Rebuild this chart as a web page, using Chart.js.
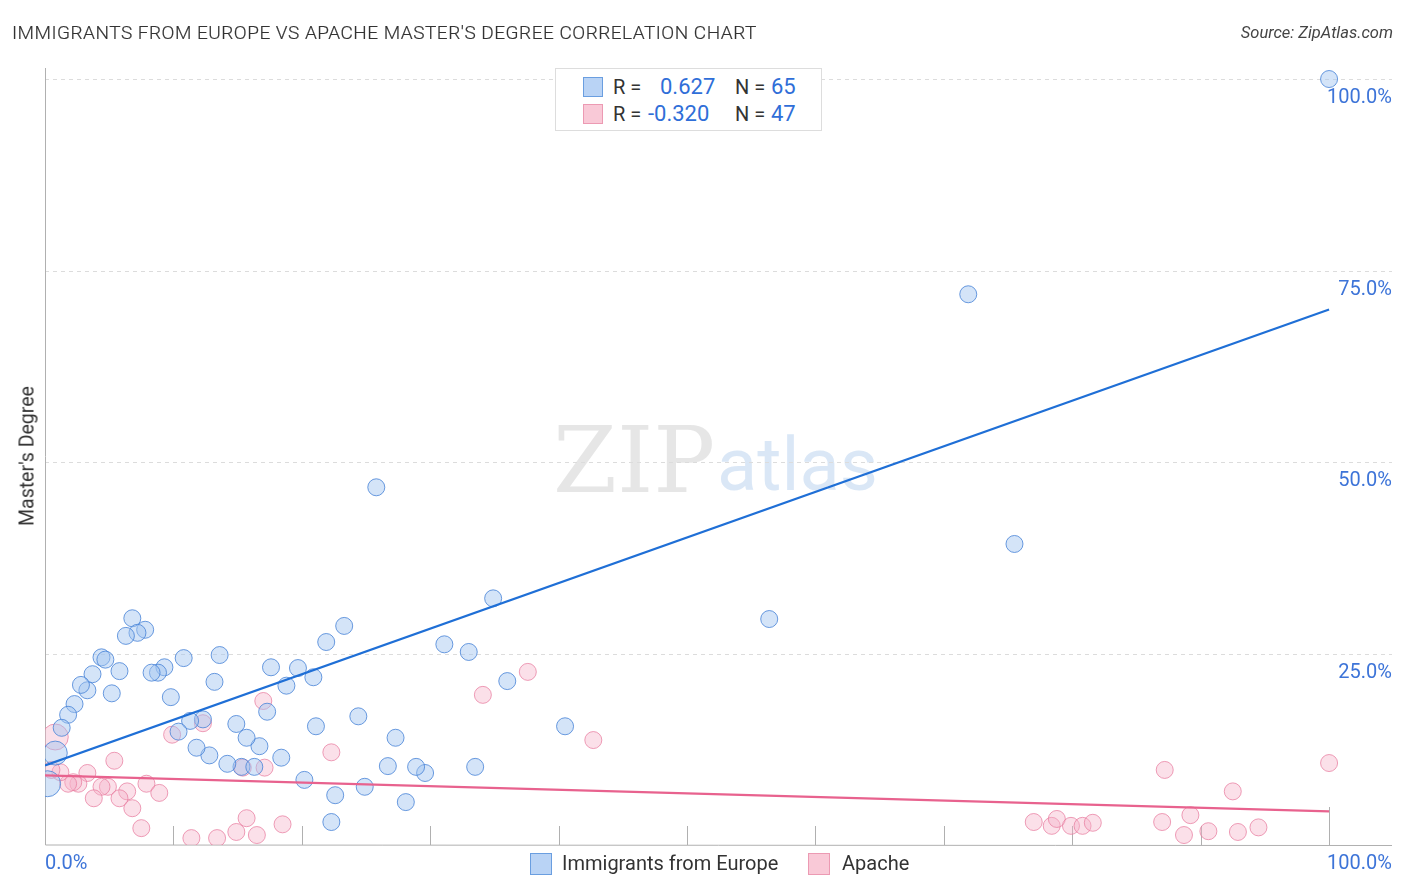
<!DOCTYPE html>
<html>
<head>
<meta charset="utf-8">
<script src="https://cdn.jsdelivr.net/npm/chart.js@4.4.1/dist/chart.umd.min.js"></script>
<style>
  html, body { margin: 0; padding: 0; background: #fff; }
  body { width: 1406px; height: 892px; position: relative; overflow: hidden; font-family: Roboto, "Noto Sans", sans-serif; }
  #chart { position: absolute; left: 0; top: 0; }
  .title { position: absolute; left: 12px; top: 21px; font-size: 19px; color: #333; letter-spacing: 0.5px; font-weight: 300; -webkit-text-stroke: 0.2px #333; }
  .source { position: absolute; right: 13px; top: 23px; font-size: 16.5px; color: #444; font-style: italic; }
  .ytitle { position: absolute; left: 27px; top: 456px; font-size: 19.5px; color: #333; transform: translate(-50%, -50%) rotate(-90deg); white-space: nowrap; }
  .stats { position: absolute; left: 555px; top: 68px; width: 265px; height: 61px; border: 1px solid #ddd; background: #fff; font-size: 20px; color: #333; }
  .stats .row { position: absolute; left: 0; height: 24px; line-height: 24px; }
  .stats .num { font-size: 22px; }
  .sw { position: absolute; width: 20px; height: 20px; box-sizing: border-box; }
  .blue-sw { background: #b9d3f5; border: 1px solid #6a9ee0; }
  .pink-sw { background: #f9c9d7; border: 1px solid #ec9ab3; }
  .num { color: #2f6ed8; }
  .legend { position: absolute; top: 851px; font-size: 20px; color: #333; }
</style>
</head>
<body>
<canvas id="chart" width="1406" height="892"></canvas>
<div class="title">IMMIGRANTS FROM EUROPE VS APACHE MASTER'S DEGREE CORRELATION CHART</div>
<div class="source">Source: ZipAtlas.com</div>
<div class="ytitle">Master's Degree</div>
<div class="stats">
  <div class="sw blue-sw" style="left:27px; top:8px;"></div>
  <div class="row" style="top:6px; left:57px;">R =</div>
  <div class="row num" style="top:6px; left:104px;">0.627</div>
  <div class="row" style="top:6px; left:179px;">N =</div>
  <div class="row num" style="top:6px; left:215px;">65</div>
  <div class="sw pink-sw" style="left:27px; top:35px;"></div>
  <div class="row" style="top:33px; left:57px;">R =</div>
  <div class="row num" style="top:33px; left:92px;">-0.320</div>
  <div class="row" style="top:33px; left:179px;">N =</div>
  <div class="row num" style="top:33px; left:215px;">47</div>
</div>
<div class="sw blue-sw legend" style="left:530px; top:853px; width:22px; height:22px;"></div>
<div class="legend" style="left:562px;">Immigrants from Europe</div>
<div class="sw pink-sw legend" style="left:808px; top:853px; width:22px; height:22px;"></div>
<div class="legend" style="left:842px;">Apache</div>
<script>
// Immigrants from Europe (x = immigrants %, y = master's degree %)
const europeX = [100, 50, 71.9, 75.5, 25.8, 56.4, 34.9, 31.1, 33.0, 36.0, 40.5, 33.5, 29.6, 28.9, 26.7, 27.3, 28.1, 24.9, 24.4, 23.3,
  21.9, 20.9, 19.7, 18.8, 17.6, 21.1, 20.2, 22.6, 22.3, 17.3, 18.4, 16.7, 15.7, 14.9, 15.3, 16.3, 14.2, 12.8, 11.8, 13.6,
  13.2, 12.3, 11.3, 10.4, 9.8, 10.8, 9.3, 8.8, 8.3, 7.8, 6.8, 7.2, 6.3, 5.8, 5.2, 4.4, 4.7, 3.7, 3.3, 2.8,
  2.3, 1.8, 1.3, 0.8, 0.2];
const europeY = [100, 100, 71.9, 39.3, 46.7, 29.5, 32.2, 26.2, 25.2, 21.4, 15.5, 10.2, 9.4, 10.2, 10.3, 14.0, 5.6, 7.6, 16.8, 28.6,
  26.5, 21.9, 23.1, 20.8, 23.2, 15.5, 8.5, 6.5, 3.0, 17.4, 11.4, 12.9, 14.0, 15.8, 10.2, 10.2, 10.6, 11.7, 12.7, 24.8,
  21.3, 16.4, 16.2, 14.8, 19.3, 24.4, 23.2, 22.5, 22.5, 28.1, 29.6, 27.7, 27.3, 22.7, 19.8, 24.5, 24.2, 22.3, 20.2, 20.9,
  18.4, 17.0, 15.3, 12.0, 8.0];
const europeR = europeX.map((x, i) => i === 63 ? 12 : i === 64 ? 13 : 8.5);

// Apache
const apacheX = [100, 87.2, 92.5, 89.2, 87.0, 88.7, 90.6, 92.9, 94.5, 77.0, 78.4, 78.8, 79.9, 80.8, 81.6, 42.7, 37.6, 34.1, 22.3, 17.1,
  17.0, 15.7, 14.9, 16.5, 18.5, 15.4, 12.3, 9.9, 13.4, 11.4, 7.5, 6.8, 6.4, 5.8, 5.4, 4.9, 4.4, 3.8, 3.3, 2.6,
  2.2, 1.8, 1.2, 0.8, 7.9, 8.9, 0.5];
const apacheY = [10.7, 9.8, 7.0, 3.9, 3.0, 1.3, 1.8, 1.7, 2.3, 3.0, 2.5, 3.4, 2.5, 2.5, 2.9, 13.7, 22.6, 19.6, 12.1, 10.1,
  18.8, 3.5, 1.7, 1.3, 2.7, 10.1, 15.9, 14.4, 0.9, 0.9, 2.2, 4.8, 7.0, 6.1, 11.0, 7.6, 7.6, 6.1, 9.4, 8.0,
  8.2, 8.0, 9.5, 14.1, 8.0, 6.8, 9.8];
const apacheR = apacheX.map((x, i) => i === 43 ? 13 : 8.5);

// trend lines (start, end)
const trendX = [0, 100];
const europeTrend = [10.4, 69.9];
const apacheTrend = [9.1, 4.4];

const yGrid = [25, 50, 75, 100];
const yTickLabels = ['25.0%', '50.0%', '75.0%', '100.0%'];
const xTicks = [10, 20, 30, 40, 50, 60, 70, 80, 90, 100];

const toPts = (xs, ys) => xs.map((x, i) => ({ x: x, y: ys[i] }));

const decor = {
    id: 'decor',
    beforeDatasetsDraw(chart) {
        const { ctx, chartArea: a, scales: { x, y } } = chart;
        ctx.save();
        // watermark
        ctx.font = '92px "DejaVu Serif", "Liberation Serif", serif';
        ctx.fillStyle = 'rgba(200, 200, 200, 0.45)';
        ctx.textBaseline = 'alphabetic';
        ctx.fillText('ZIP', 553, 492);
        ctx.font = '74px Roboto, sans-serif';
        ctx.fillStyle = 'rgba(150, 185, 230, 0.35)';
        ctx.fillText('atlas', 717, 490);
        // dashed gridlines
        ctx.strokeStyle = '#dcdcdc';
        ctx.lineWidth = 1;
        ctx.setLineDash([4, 4]);
        yGrid.forEach(v => {
            const py = Math.round(y.getPixelForValue(v)) + 0.5;
            ctx.beginPath();
            ctx.moveTo(a.left, py);
            ctx.lineTo(a.right, py);
            ctx.stroke();
        });
        ctx.setLineDash([]);
        // axes
        ctx.strokeStyle = '#b0b0b0';
        ctx.beginPath();
        ctx.moveTo(a.left + 0.5, a.top);
        ctx.lineTo(a.left + 0.5, a.bottom);
        ctx.lineTo(a.right, a.bottom + 0.5);
        ctx.stroke();
        // tick marks
        xTicks.forEach(v => {
            const px = Math.round(x.getPixelForValue(v)) + 0.5;
            ctx.beginPath();
            ctx.moveTo(px, a.bottom);
            ctx.lineTo(px, a.bottom - (v === 100 ? 38 : 19));
            ctx.stroke();
        });
        // tick labels
        ctx.fillStyle = '#3d74d8';
        ctx.font = '20px Roboto, sans-serif';
        ctx.textAlign = 'right';
        ctx.textBaseline = 'middle';
        yGrid.forEach((v, i) => {
            ctx.fillText(yTickLabels[i], a.right, y.getPixelForValue(v) + 19);
        });
        ctx.fillText('100.0%', a.right, a.bottom + 19);
        ctx.textAlign = 'left';
        ctx.fillText('0.0%', a.left, a.bottom + 19);
        ctx.restore();
    }
};

new Chart(document.getElementById('chart'), {
    type: 'scatter',
    data: {
        datasets: [
            {
                type: 'line',
                data: toPts(trendX, europeTrend),
                borderColor: '#1f6fd6',
                borderWidth: 2.2,
                pointRadius: 0,
                fill: false,
                order: 0
            },
            {
                type: 'line',
                data: toPts(trendX, apacheTrend),
                borderColor: '#e8628e',
                borderWidth: 2.2,
                pointRadius: 0,
                fill: false,
                order: 0
            },
            {
                label: 'Apache',
                data: toPts(apacheX, apacheY),
                backgroundColor: 'rgba(246, 178, 200, 0.4)',
                borderColor: 'rgba(232, 125, 160, 0.75)',
                borderWidth: 1,
                pointRadius: apacheR,
                order: 2
            },
            {
                label: 'Immigrants from Europe',
                data: toPts(europeX, europeY),
                backgroundColor: 'rgba(160, 196, 240, 0.45)',
                borderColor: 'rgba(70, 130, 215, 0.8)',
                borderWidth: 1,
                pointRadius: europeR,
                order: 1
            }
        ]
    },
    options: {
        responsive: false,
        animation: false,
        layout: { padding: { left: 45, right: 13, top: 68, bottom: 47 } },
        plugins: {
            legend: { display: false },
            tooltip: { enabled: false }
        },
        scales: {
            x: { type: 'linear', min: 0, max: 104.9, display: false },
            y: { type: 'linear', min: 0, max: 101.44, display: false }
        }
    },
    plugins: [decor]
});
</script>
</body>
</html>
